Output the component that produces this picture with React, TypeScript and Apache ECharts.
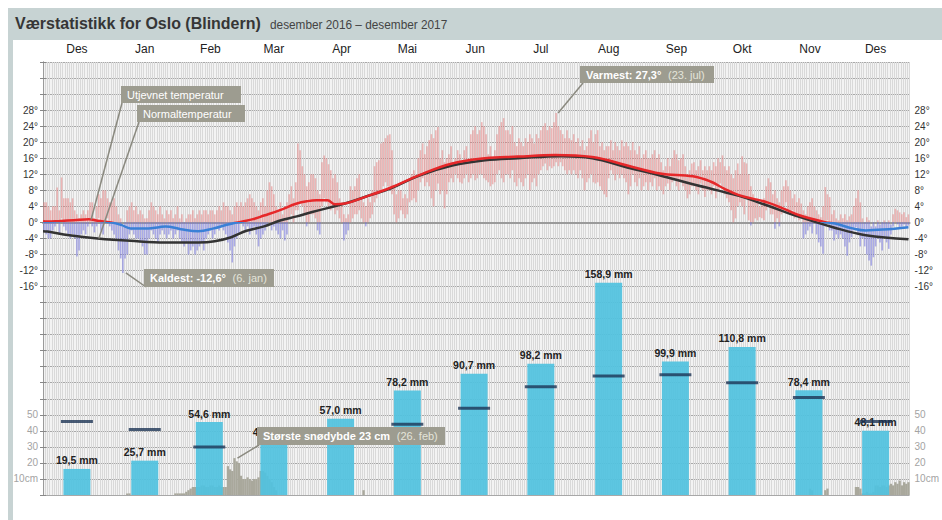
import React, { useEffect, useRef } from 'react';
import * as echarts from 'echarts';

const FONT = '"Liberation Sans", Arial, sans-serif';

const monthNames = ['Des', 'Jan', 'Feb', 'Mar', 'Apr', 'Mai', 'Jun', 'Jul', 'Aug', 'Sep', 'Okt', 'Nov', 'Des'];
const monthDays = [31, 31, 28, 31, 30, 31, 30, 31, 31, 30, 31, 30, 31];

// Monthly precipitation (mm) and normal precipitation (mm)
const precipVals = [19.5, 25.7, 54.6, 40.5, 57.0, 78.2, 90.7, 98.2, 158.9, 99.9, 110.8, 78.4, 48.1];
const precipNormal = [55, 49, 36, 47, 41, 53, 65, 81, 89, 90, 84, 73, 55];

// Daily max / min temperature (°C)
const maxDes16 = [5, 5, 4, 3, 4, 4, 8.7, 3, 11.2, 6, 6, 6, 5, 6, 3, 2, 1, 2, 3, 2, 3, 5, 5, 1, 4, 7, 6, 8, 8, 6, 5];
const minDes16 = [-2, -3, -4, -4, -2, -1, 0, -3, 1, -1, -2, -3, -4, -3, -4, -8.5, -7, -3, -2, -3, -1, 0, -1, -2.5, -1, 1, -2, -3, 0, 1, -1];
const maxJan17 = [5, 6, 4, 2, 1, -1, 0, 3, 4, 5, 3, 4, 2, 3, 2, 1, 1, 3, 5, 4, 3, 2, 4, 2, 1, 3, 2, 3, 1, 2, 4];
const minJan17 = [-2, -3, -4, -7, -9, -12.6, -9, -8, -3, -2, -3, -4, -4, -5, -6, -8, -8, -4, -2, -3, -4, -5, -3, -2, -3, -4, -3, -2, -4, -3, -2];
const maxFeb17 = [1, 2, 0, 1, 2, 2, 3, 1, 2, 3, 2, 3, 3, 2, 3, 3, 2, 3, 4, 3, 5, 4, 4, 3, 2, 4, 5, 4];
const minFeb17 = [-4, -5, -6, -5, -8, -7, -6, -8, -7, -6, -5, -7, -4, -3, -2, -4, -3, -1, -2, -1, -2, -3, -5, -7, -10, -6, -4, -3];
const maxMar17 = [5, 4, 5, 6, 7, 6, 5, 4, 3, 5, 6, 4, 8, 10, 9, 7, 4, 3, 5, 2, 4, 5, 7, 9, 6, 10, 19.7, 18, 14, 12, 9];
const minMar17 = [0, -1, -2, -1, -3, -2, -1, -3, -6, -4, -3, -2, -1, 0, -2, -1, -2, -3, -4, -2, -4.5, -3, 1, 2, 0, 3, 3, 5, 4, 2, -1];
const maxApr17 = [10, 12, 12, 11, 8, 7, 15, 16.7, 16, 14.5, 13, 11, 12, 10, 6, 5, 2, 1, 2, 9, 8, 9, 11, 12, 6, 5, 4, 6, 5, 8];
const minApr17 = [0, 2, 2, 1, -2, -3, 4, 6, 5, 4, 3, 4, 2, 3, 1, 0, -4.5, -3, -2, 0, 1, 2, 2, 3, 1, 0, -1, 0, 1, 2];
const maxMai17 = [14, 15, 15.5, 19.7, 20, 21, 21.7, 22, 18, 9, 7, 8, 8, 6, 7, 6, 10.5, 12, 13, 11, 16, 18, 19.7, 17, 19, 20.5, 22, 21, 23, 23.8, 16];
const minMai17 = [5, 6, 7, 8, 9, 10, 9, 9, 7, 2, 0, 1, 3, 2, 1, 2, 5, 5.5, 6, 5, 8, 10, 11, 9, 10, 9, 6, 4, 8, 9.7, 7];
const maxJun17 = [18, 15, 16, 17, 19, 15, 16, 18, 17, 15, 18, 19, 16, 22, 23, 24, 22, 23, 25, 24, 22, 17, 19, 16, 18, 22, 24, 25, 26, 23];
const minJun17 = [8, 3.5, 7, 10, 11, 10, 12, 11, 10, 9.7, 11, 12, 10, 11, 12, 10.5, 11, 12, 12, 11, 10.5, 10, 9, 9.5, 10, 12, 13, 11, 10, 12];
const maxJul17 = [23, 22, 24, 20, 19, 21, 20, 19, 21, 20, 22, 21, 19.7, 22, 21, 23, 24, 24.7, 23, 24, 23.5, 25, 27.3, 24, 23, 22, 21, 23, 21, 20.5, 22];
const minJul17 = [12, 11, 13, 10, 9, 11, 10, 9, 11, 12, 8, 10, 11, 9, 12, 13, 14, 14.7, 13, 14, 13.5, 14, 15, 14, 15, 14, 13, 12, 13, 12, 13];
const maxAug17 = [20, 21, 19, 20.5, 18, 19, 21, 23, 20, 22, 23, 19, 20, 18, 19, 19, 20.5, 18, 20, 19, 18, 20.5, 19, 20, 19, 18, 20, 18, 17, 19, 16];
const minAug17 = [12, 11, 13, 11, 8, 10, 11, 12, 10, 9.7, 10, 9, 8, 7, 6.3, 11, 13, 12, 10.5, 12, 11, 12, 11, 10, 7, 9, 12, 10, 9, 11, 8];
const maxSep17 = [17, 18, 16, 16, 17, 18, 16, 17, 15, 13, 14, 16, 14, 16, 18, 17, 15.5, 16, 17, 14, 12, 13, 14.7, 15, 13, 14, 15.5, 13, 14, 13];
const minSep17 = [9, 10, 8, 10, 9, 11, 8, 9, 8, 7, 9, 9.7, 8, 10, 11, 9, 8, 10, 9, 8, 6, 7, 9, 9, 8, 7, 9.7, 8, 6.3, 8];
const maxOkt17 = [14, 13, 15, 14, 16, 15, 16.7, 14, 13, 14, 12, 11, 13, 14.7, 12, 16.5, 15, 14.7, 12, 9, 7, 5, 6, 4, 5, 6, 9, 11, 10, 7, 8];
const minOkt17 = [8, 7, 9, 6, 8, 9.7, 9, 7, 6, 5, 3, 0, 1, 4, 5, 4, 2, 6, 0.5, -0.8, 0, 1, 0.5, 1.3, 1, 0.5, 3, 4, 2, 2, -1.6];
const maxNov17 = [6, 5, 8, 9, 10.5, 9, 8, 6, 7, 5, 6, 4.7, 3, 2, 4, 5, 6, 4, 3, 2, 1.3, 4, 8.8, 7, 6.3, 2, 3, 1, 0.5, 2];
const minNov17 = [1, -1, 2, 4, 5, 3, 2, 3, 1, 2, 0.5, 1, -4, -3, -2, -1, -2.8, -0.3, -3, -5, -6, -7.8, -1, 0.5, -2, -2, -4.5, -3, -4, -3];
const maxDes17 = [1, 2, 0.5, 1.5, 2, 4, 6, 8, 5, 1, 0, 1.3, 0.5, -1, 0, -1, 0.5, -0.5, 0, 0.5, 0, 0.5, -0.5, 2, 3.4, 3, 2.5, 2, 2.5, 1.3, 2];
const minDes17 = [-4, -6, -8.3, -5, -3.7, -2, -1.2, -3, -6, -4, -6, -8, -9.5, -10.8, -8.7, -6, -4, -5, -7, -3.7, -5, -6.6, -3, -1, 0, -0.5, -1.2, -1, -0.5, -1, -0.8];

// Daily snow depth (cm)
const snowDes16 = new Array(31).fill(0);
const snowJan17 = [0, 0, 0, 0, 0, 0, 0, 1, 1, 0, 0, 0, 0, 0, 0, 0, 0, 0, 0, 0, 0, 0, 0, 0, 0, 0, 0, 0, 0, 1, 1];
const snowFeb17 = [1, 1, 1, 2, 3, 4, 5, 5, 5, 5, 6, 6, 5, 5, 6, 6, 5, 5, 6, 5, 5, 5, 18, 16, 15, 23, 21, 20];
const snowMar17 = [12, 10, 10, 11, 10, 9, 10, 10, 11, 15, 15, 14, 12, 10, 8, 5, 3, 0, 0, 0, 0, 0, 0, 0, 0, 0, 0, 0, 0, 0, 0];
const snowApr17 = [0, 0, 0, 0, 0, 0, 0, 0, 0, 0, 0, 0, 0, 0, 0, 0, 0, 0, 0, 0, 0, 0, 0, 0, 0, 3, 0, 0, 0, 0];
const snowMaiOkt17 = new Array(31 + 30 + 31 + 31 + 30 + 31).fill(0);
const snowNov17 = [0, 0, 0, 0, 0, 0, 0, 0, 0, 0, 0, 0, 0, 0, 0, 4, 3, 0, 0, 0, 0, 0, 3, 4, 0, 0, 0, 0, 0, 0];
const snowDes17 = [0, 0, 0, 0, 0, 0, 5, 5, 4, 1, 1, 2, 1, 1, 2, 6, 6, 5, 6, 6, 5, 6, 7, 6, 8, 7, 9, 6, 8, 7, 8];

// Smoothed temperature (day index, °C)
const smoothDays = [0, 2, 7, 14, 21, 25, 31, 36, 40, 48, 53, 56, 63, 71, 78, 84, 89, 96, 101, 108, 116, 121, 125, 130, 133.5, 138, 148, 159, 172, 187, 202, 217, 234, 251, 267, 282, 297, 305, 311, 318, 331, 339, 346, 358, 362, 370, 376, 384, 395.5];
const smoothVals = [0.3, 0.2, 0.3, 0.5, 0.8, 0.4, 0, -0.7, -1.5, -1.5, -1.2, -1.0, -1.7, -2.2, -1.5, -0.6, 0, 0.8, 1.7, 3, 4.7, 5.3, 5.5, 5.5, 4.5, 4.7, 6.5, 8.7, 11.8, 14.7, 16, 16.4, 16.8, 16.3, 14.2, 12.2, 11.5, 10.2, 8.5, 6.8, 5, 3.3, 1.7, 0, -0.3, -1.5, -2, -1.8, -1.2];

// Normal temperature (day index, °C)
const normalDays = [0, 2, 12, 25, 40, 56, 71, 78.5, 86, 93, 101, 108, 116, 123, 138, 148, 159, 172, 187, 202, 217, 237, 251, 267, 282, 297, 318, 331, 346, 361, 376, 395.5];
const normalVals = [-2.2, -2.3, -3.2, -4, -4.6, -5, -5, -4.7, -3.7, -2.1, -1.0, 0.4, 1.5, 2.6, 4.7, 6.5, 8.5, 11.7, 14.2, 15.5, 16, 16.5, 16, 13.7, 11.7, 9.5, 6.6, 4.2, 1.3, -1.2, -3.2, -4.2];

const RED = '#e6282a';
const BLUE = '#3a80d6';

export default function App() {
  const ref = useRef<HTMLDivElement>(null);

  useEffect(() => {
    if (!ref.current) return;
    const chart = echarts.init(ref.current, null, { renderer: 'svg' });

    const tMax = [maxDes16, maxJan17, maxFeb17, maxMar17, maxApr17, maxMai17, maxJun17, maxJul17, maxAug17, maxSep17, maxOkt17, maxNov17, maxDes17].flat();
    const tMin = [minDes16, minJan17, minFeb17, minMar17, minApr17, minMai17, minJun17, minJul17, minAug17, minSep17, minOkt17, minNov17, minDes17].flat();
    const snow = [snowDes16, snowJan17, snowFeb17, snowMar17, snowApr17, snowMaiOkt17, snowNov17, snowDes17].flat();
    const totalDays = monthDays.reduce((a, b) => a + b, 0);

    const monthCenters: number[] = [];
    const dayLabels: string[] = new Array(totalDays).fill('');
    let start = 0;
    monthDays.forEach((n, m) => {
      monthCenters.push(start + n / 2);
      dayLabels[start + Math.floor(n / 2)] = monthNames[m];
      start += n;
    });

    const tempData = tMax.map((hi, i) => [i + 0.5, tMin[i], hi]);
    const snowData = snow.map((v, i) => [i + 0.5, v]);
    const precipData = precipVals.map((v, i) => [monthCenters[i], v]);
    const precipNormData = precipNormal.map((v, i) => [monthCenters[i], v]);
    const smoothData = smoothDays.map((d, i) => [d, smoothVals[i]]);
    const normalData = normalDays.map((d, i) => [d, normalVals[i]]);

    const tempLabel = (v: number) => (v >= -16 && v <= 28 ? `${v}°` : '');
    const snowLabel = (v: number) => (v === 10 ? '10cm' : v >= 20 && v <= 50 ? `${v}` : '');

    const tempAxisBase = {
      type: 'value',
      min: -68,
      max: 40,
      interval: 4,
      axisLine: { show: true, lineStyle: { color: '#9a9a9a', width: 1 } },
      axisTick: { show: true, length: 3, lineStyle: { color: '#888' } },
      axisLabel: { formatter: tempLabel, fontSize: 10, color: '#333', margin: 5, fontFamily: FONT },
    };
    const snowAxisBase = {
      type: 'value',
      min: 0,
      max: 270,
      interval: 10,
      axisLine: { show: false },
      axisTick: { show: false },
      splitLine: { show: false },
      axisLabel: { formatter: snowLabel, fontSize: 10, color: '#a3a3a3', margin: 5, fontFamily: FONT },
    };

    const renderTemp = (params: any, api: any) => {
      if (!api) return null;
      const x = api.value(0);
      const lo = api.value(1);
      const hi = api.value(2);
      const w = api.size([1, 0])[0] * 0.72;
      const pTop = api.coord([x, hi]);
      const pBot = api.coord([x, lo]);
      const p0 = api.coord([x, 0]);
      const children: any[] = [];
      if (hi > 0) {
        const top = pTop[1];
        const bot = lo > 0 ? pBot[1] : p0[1];
        children.push({ type: 'rect', shape: { x: pTop[0] - w / 2, y: top, width: w, height: bot - top }, style: { fill: 'rgba(232,120,120,0.5)' } });
      }
      if (lo < 0) {
        const top = hi < 0 ? pTop[1] : p0[1];
        children.push({ type: 'rect', shape: { x: pTop[0] - w / 2, y: top, width: w, height: pBot[1] - top }, style: { fill: 'rgba(118,118,222,0.58)' } });
      }
      return { type: 'group', children };
    };

    const option: any = {
      animation: false,
      grid: { left: 43, right: 26, top: 62, bottom: 25, show: true, backgroundColor: '#f3f3f3', borderWidth: 0 },
      xAxis: [
        {
          type: 'value', min: 0, max: totalDays, interval: 1, position: 'bottom',
          axisLine: { show: true, lineStyle: { color: '#9a9a9a', width: 2 } },
          axisTick: { show: false }, axisLabel: { show: false },
          splitLine: { show: true, lineStyle: { color: '#d9d9d9', width: 1 } },
        },
        {
          type: 'category', data: dayLabels, position: 'top', boundaryGap: true,
          axisLine: { show: false }, axisTick: { show: false }, splitLine: { show: false },
          axisLabel: { interval: 0, margin: 7, fontSize: 12, color: '#222', fontFamily: FONT },
        },
        { type: 'value', min: 0, max: totalDays, show: false },
      ],
      yAxis: [
        { ...tempAxisBase, position: 'left', splitLine: { show: true, lineStyle: { color: '#a8a8a8', width: 1 } } },
        { ...tempAxisBase, position: 'right', splitLine: { show: false } },
        { ...snowAxisBase, position: 'left' },
        { ...snowAxisBase, position: 'right' },
        { type: 'value', min: 0, max: 324, interval: 12, show: false },
      ],
      series: [
        {
          name: 'Snødybde', type: 'bar', xAxisIndex: 2, yAxisIndex: 2, data: snowData,
          barWidth: 2.3, itemStyle: { color: '#a9a89c' }, z: 2, silent: true,
        },
        {
          name: 'Nedbør', type: 'bar', xAxisIndex: 0, yAxisIndex: 4, data: precipData,
          barWidth: 27, itemStyle: { color: 'rgba(80,194,224,0.92)' }, z: 3,
          label: {
            show: true, position: 'top', distance: 3, color: '#222', fontSize: 10.5, fontWeight: 'bold', fontFamily: FONT,
            formatter: (p: any) => `${p.value[1].toFixed(1).replace('.', ',')} mm`,
          },
        },
        {
          name: 'Normalnedbør', type: 'scatter', xAxisIndex: 0, yAxisIndex: 4, data: precipNormData,
          symbol: 'rect', symbolSize: [32, 3], itemStyle: { color: '#1d3555' }, z: 6,
        },
        {
          name: 'Temperatur', type: 'custom', xAxisIndex: 0, yAxisIndex: 0, data: tempData, z: 5,
          encode: { x: 0, y: [1, 2] },
          renderItem: renderTemp,
        },
        {
          name: 'Normaltemperatur', type: 'line', xAxisIndex: 0, yAxisIndex: 0, data: normalData,
          smooth: 0.4, showSymbol: false, lineStyle: { color: '#333333', width: 2.5 }, z: 7,
        },
        {
          name: 'Utjevnet temperatur', type: 'line', xAxisIndex: 0, yAxisIndex: 0, data: smoothData,
          smooth: 0.4, showSymbol: false, lineStyle: { width: 2.5, color: RED }, z: 8,
        },
      ],
    };

    try {
      chart.setOption(option);
    } catch (e: any) {
      console.error('setOption main', e && e.stack);
    }

    try {
      const pxT = (pt: number[]) => chart.convertToPixel({ xAxisIndex: 0, yAxisIndex: 0 } as any, pt) as unknown as number[];
      const pxS = (pt: number[]) => chart.convertToPixel({ xAxisIndex: 2, yAxisIndex: 2 } as any, pt) as unknown as number[];

      const y0 = pxT([0, 0])[1];
      const H = 520;
      const f = y0 / H;

      const boxFill = '#9d9c90';
      const leaderColor = '#8a897f';
      const rich = {
        b: { fill: '#ffffff', fontWeight: 'bold', fontSize: 11, fontFamily: FONT },
        n: { fill: '#e4e4da', fontSize: 11, fontFamily: FONT },
      };
      const box = (x: number, y: number, w: number, h: number, text: string, useRich: boolean) => ({
        type: 'group',
        z: 100,
        children: [
          { type: 'rect', shape: { x, y, width: w, height: h }, style: { fill: boxFill }, z: 100 },
          {
            type: 'text', x: x + 6, y: y + h / 2, z: 101,
            style: useRich
              ? { text, rich, verticalAlign: 'middle', align: 'left' }
              : { text, fill: '#ffffff', fontSize: 11, fontFamily: FONT, verticalAlign: 'middle', align: 'left' },
          },
        ],
      });
      const leader = (a: number[], b: number[]) => ({
        type: 'line', z: 99,
        shape: { x1: a[0], y1: a[1], x2: b[0], y2: b[1] },
        style: { stroke: leaderColor, lineWidth: 1.5 },
      });

      const pUtj = pxT([22, 0.7]);
      const pNorm = pxT([25.5, -4.0]);
      const pCold = pxT([36.5, -12.6]);
      const pWarm = pxT([234.5, 27.3]);
      const pSnow = pxS([87.5, 23]);

      chart.setOption({
        series: [
          {}, {}, {}, {}, {},
          {
            lineStyle: {
              color: {
                type: 'linear', x: 0, y: 0, x2: 0, y2: H, global: true,
                colorStops: [
                  { offset: 0, color: RED },
                  { offset: f, color: RED },
                  { offset: f, color: BLUE },
                  { offset: 1, color: BLUE },
                ],
              },
            },
          },
        ],
        graphic: [
          { type: 'rect', shape: { x: 8, y: 8, width: 934, height: 32 }, style: { fill: '#c7d3d3' }, z: 1 },
          { type: 'rect', shape: { x: 8, y: 40, width: 5, height: 480 }, style: { fill: '#c7d3d3' }, z: 1 },
          {
            type: 'text', x: 15, y: 23, scaleX: 0.94, z: 2,
            style: { text: 'Værstatistikk for Oslo (Blindern)', fill: '#363636', fontSize: 17, fontWeight: 'bold', fontFamily: FONT, verticalAlign: 'middle' },
          },
          {
            type: 'text', x: 270, y: 25, scaleX: 0.91, z: 2,
            style: { text: 'desember 2016 – desember 2017', fill: '#444444', fontSize: 13, fontFamily: FONT, verticalAlign: 'middle' },
          },
          leader([122, 103], pUtj),
          box(121, 86, 120, 17, 'Utjevnet temperatur', false),
          leader([139, 122], pNorm),
          box(137, 105, 108, 17, 'Normaltemperatur', false),
          leader([pCold[0] + 3, pCold[1]], [146, 287]),
          box(144, 269, 130, 18, '{b|Kaldest: -12,6°}  {n|(6. jan)}', true),
          leader([583, 83], [pWarm[0] + 2, pWarm[1]]),
          box(580, 66, 134, 17, '{b|Varmest: 27,3°}  {n|(23. jul)}', true),
          leader([pSnow[0] + 3, pSnow[1]], [259, 445]),
          box(257, 427, 188, 18, '{b|Største snødybde 23 cm}  {n|(26. feb)}', true),
        ],
      });
    } catch (e: any) {
      console.error('setOption graphic', e && e.stack);
    }

    return () => chart.dispose();
  }, []);

  return <div ref={ref} style={{ position: 'absolute', left: 0, top: 0, width: 942, height: 520 }} />;
}
